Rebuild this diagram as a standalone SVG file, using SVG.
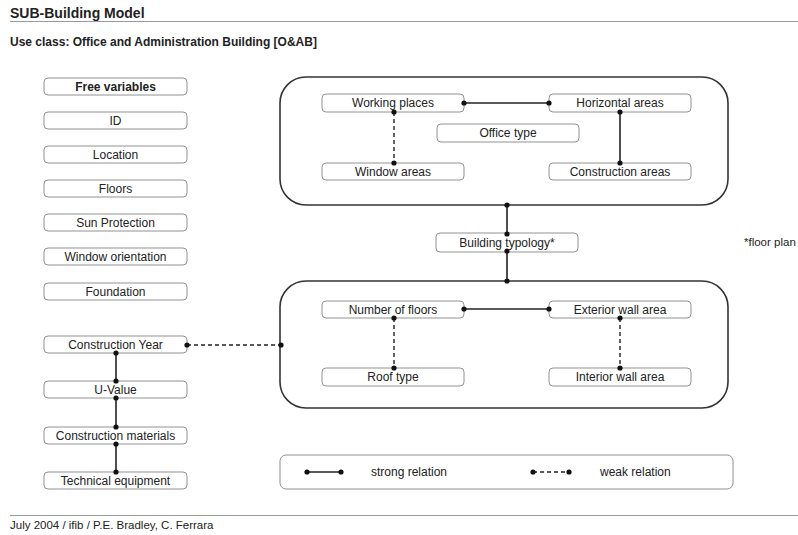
<svg xmlns="http://www.w3.org/2000/svg" width="798" height="535" viewBox="0 0 798 535">
  <style>
    text { font-family: "Liberation Sans", Arial, sans-serif; fill: #222; }
    .lbl { font-size: 12px; text-anchor: middle; }
    .box { fill: #fff; stroke: #777; stroke-width: 0.8; }
    .group { fill: none; stroke: #333; stroke-width: 1.6; }
    .strong { stroke: #222; stroke-width: 1.6; fill: none; }
    .weak { stroke: #222; stroke-width: 1.4; fill: none; stroke-dasharray: 4 3; }
    .dot { fill: #111; }
    .rule { stroke: #999; stroke-width: 1; }
  </style>

  <rect width="798" height="535" fill="#fff"/>

  <!-- header -->
  <text x="10" y="18" font-size="14" font-weight="bold">SUB-Building Model</text>
  <line class="rule" x1="10" y1="21.5" x2="798" y2="21.5"/>
  <text x="10" y="46" font-size="12" font-weight="bold">Use class: Office and Administration Building [O&amp;AB]</text>

  <!-- free variables column -->
  <g id="free-variables"><rect class="box" x="44" y="78" width="143" height="17" rx="4"/><text class="lbl" x="115.5" y="90.5" font-weight="bold">Free variables</text></g>
  <g id="id"><rect class="box" x="44" y="112" width="143" height="17" rx="4"/><text class="lbl" x="115.5" y="124.5">ID</text></g>
  <g id="location"><rect class="box" x="44" y="146" width="143" height="17" rx="4"/><text class="lbl" x="115.5" y="158.5">Location</text></g>
  <g id="floors"><rect class="box" x="44" y="180" width="143" height="17" rx="4"/><text class="lbl" x="115.5" y="192.5">Floors</text></g>
  <g id="sun-protection"><rect class="box" x="44" y="214" width="143" height="17" rx="4"/><text class="lbl" x="115.5" y="226.5">Sun Protection</text></g>
  <g id="window-orientation"><rect class="box" x="44" y="248" width="143" height="17" rx="4"/><text class="lbl" x="115.5" y="260.5">Window orientation</text></g>
  <g id="foundation"><rect class="box" x="44" y="283" width="143" height="17" rx="4"/><text class="lbl" x="115.5" y="295.5">Foundation</text></g>
  <g id="construction-year"><rect class="box" x="44" y="336" width="143" height="17" rx="4"/><text class="lbl" x="115.5" y="348.5">Construction Year</text></g>
  <g id="u-value"><rect class="box" x="44" y="381" width="143" height="17" rx="4"/><text class="lbl" x="115.5" y="393.5">U-Value</text></g>
  <g id="construction-materials"><rect class="box" x="44" y="427" width="143" height="17" rx="4"/><text class="lbl" x="115.5" y="439.5">Construction materials</text></g>
  <g id="technical-equipment"><rect class="box" x="44" y="472" width="143" height="17" rx="4"/><text class="lbl" x="115.5" y="484.5">Technical equipment</text></g>

  <!-- upper group: office layout -->
  <g id="office-group">
    <rect class="group" x="280" y="77" width="448" height="128" rx="26"/>
    <g id="working-places"><rect class="box" x="322" y="94" width="142" height="18" rx="4"/><text class="lbl" x="393" y="107">Working places</text></g>
    <g id="horizontal-areas"><rect class="box" x="549" y="94" width="142" height="18" rx="4"/><text class="lbl" x="620" y="107">Horizontal areas</text></g>
    <g id="office-type"><rect class="box" x="437" y="124" width="142" height="18" rx="4"/><text class="lbl" x="508" y="137">Office  type</text></g>
    <g id="window-areas"><rect class="box" x="322" y="163" width="142" height="17" rx="4"/><text class="lbl" x="393" y="175.5">Window areas</text></g>
    <g id="construction-areas"><rect class="box" x="549" y="163" width="142" height="17" rx="4"/><text class="lbl" x="620" y="175.5">Construction areas</text></g>
  </g>

  <g id="building-typology"><rect class="box" x="436" y="233" width="142" height="19" rx="4"/><text class="lbl" x="507" y="246.5">Building typology*</text></g>
  <text x="744" y="246" font-size="11.5">*floor plan</text>

  <!-- lower group: building envelope -->
  <g id="envelope-group">
    <rect class="group" x="280" y="281" width="448" height="127" rx="26"/>
    <g id="number-of-floors"><rect class="box" x="322" y="301" width="142" height="17" rx="4"/><text class="lbl" x="393" y="313.5">Number of floors</text></g>
    <g id="exterior-wall-area"><rect class="box" x="549" y="301" width="142" height="17" rx="4"/><text class="lbl" x="620" y="313.5">Exterior wall area</text></g>
    <g id="roof-type"><rect class="box" x="322" y="368" width="142" height="18" rx="4"/><text class="lbl" x="393" y="381">Roof type</text></g>
    <g id="interior-wall-area"><rect class="box" x="549" y="368" width="142" height="18" rx="4"/><text class="lbl" x="620" y="381">Interior wall area</text></g>
  </g>

  <!-- connectors -->
  <g id="connectors">
    <!-- left chain -->
    <line class="strong" x1="116" y1="353" x2="116" y2="381"/>
    <line class="strong" x1="116" y1="398" x2="116" y2="427"/>
    <line class="strong" x1="116" y1="444" x2="116" y2="472"/>
    <circle class="dot" cx="116" cy="353" r="2.6"/>
    <circle class="dot" cx="116" cy="381" r="2.6"/>
    <circle class="dot" cx="116" cy="398" r="2.6"/>
    <circle class="dot" cx="116" cy="427" r="2.6"/>
    <circle class="dot" cx="116" cy="444" r="2.6"/>
    <circle class="dot" cx="116" cy="472" r="2.6"/>
    <!-- construction year to envelope group -->
    <line class="weak" x1="187" y1="345" x2="280" y2="345"/>
    <circle class="dot" cx="187" cy="345" r="2.6"/>
    <circle class="dot" cx="281" cy="345" r="2.6"/>

    <!-- upper group -->
    <line class="strong" x1="464" y1="103" x2="549" y2="103"/>
    <circle class="dot" cx="464" cy="103" r="2.6"/>
    <circle class="dot" cx="549" cy="103" r="2.6"/>
    <line class="weak" x1="394" y1="112" x2="394" y2="163"/>
    <circle class="dot" cx="394" cy="112" r="2.6"/>
    <circle class="dot" cx="394" cy="163" r="2.6"/>
    <line class="strong" x1="620" y1="112" x2="620" y2="163"/>
    <circle class="dot" cx="620" cy="112" r="2.6"/>
    <circle class="dot" cx="620" cy="163" r="2.6"/>

    <!-- groups to building typology -->
    <line class="strong" x1="507" y1="205" x2="507" y2="234"/>
    <line class="strong" x1="507" y1="251" x2="507" y2="281"/>
    <circle class="dot" cx="507" cy="205" r="2.6"/>
    <circle class="dot" cx="507" cy="234" r="2.6"/>
    <circle class="dot" cx="507" cy="251" r="2.6"/>
    <circle class="dot" cx="507" cy="281" r="2.6"/>

    <!-- lower group -->
    <line class="strong" x1="464" y1="309" x2="549" y2="309"/>
    <circle class="dot" cx="464" cy="309" r="2.6"/>
    <circle class="dot" cx="549" cy="309" r="2.6"/>
    <line class="weak" x1="394" y1="318" x2="394" y2="368"/>
    <circle class="dot" cx="394" cy="318" r="2.6"/>
    <circle class="dot" cx="394" cy="368" r="2.6"/>
    <line class="weak" x1="620" y1="318" x2="620" y2="368"/>
    <circle class="dot" cx="620" cy="318" r="2.6"/>
    <circle class="dot" cx="620" cy="368" r="2.6"/>
  </g>

  <!-- legend -->
  <g id="legend">
    <rect class="box" x="280" y="455" width="453" height="34" rx="6"/>
    <line class="strong" x1="307" y1="472" x2="341" y2="472"/>
    <circle class="dot" cx="307" cy="472" r="2.6"/>
    <circle class="dot" cx="341" cy="472" r="2.6"/>
    <text x="371" y="476" font-size="12">strong relation</text>
    <line class="weak" x1="533" y1="472" x2="569" y2="472" stroke-dasharray="4 2.5"/>
    <circle class="dot" cx="533" cy="472" r="2.6"/>
    <circle class="dot" cx="569" cy="472" r="2.6"/>
    <text x="600" y="476" font-size="12">weak relation</text>
  </g>

  <!-- footer -->
  <line class="rule" x1="10" y1="515.5" x2="798" y2="515.5"/>
  <text x="10" y="529" font-size="11.5">July 2004 / ifib / P.E. Bradley, C. Ferrara</text>
</svg>
